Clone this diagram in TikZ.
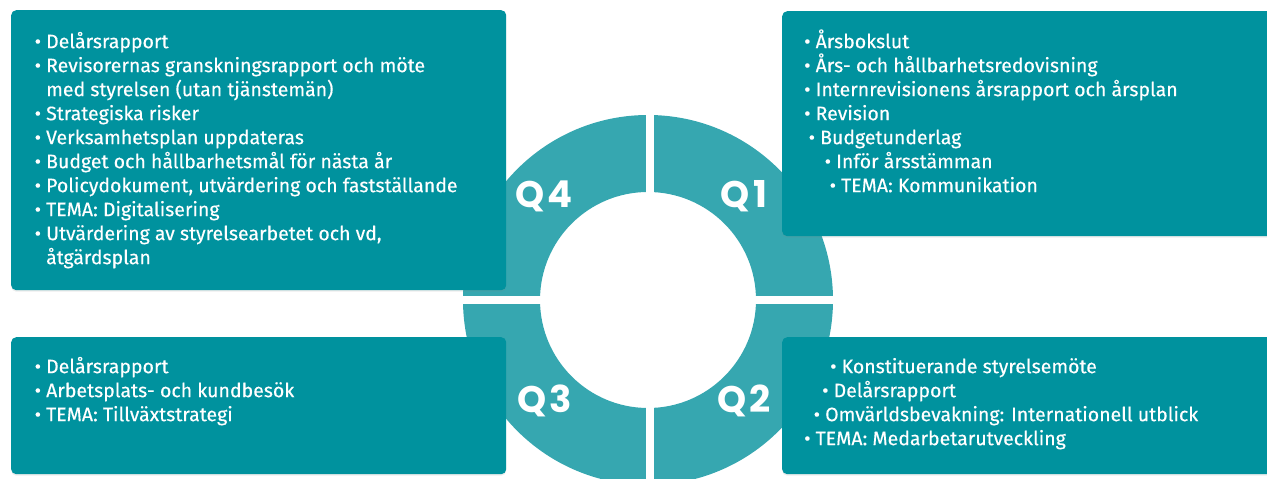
\documentclass[tikz,border=0pt]{standalone}
\usepackage{fontspec}
\setmainfont{Fira Sans}[FakeBold=0.3]
\newfontfamily\qfont{Poppins}
\usetikzlibrary{shadows}
\definecolor{boxteal}{RGB}{0,146,158}
\definecolor{ringteal}{RGB}{54,167,176}
\newcommand{\bl}{\rule{0pt}{20pt}}
\begin{document}
\begin{tikzpicture}[x=1pt,y=1pt]
        \tikzstyle{box}=[rectangle,rounded corners=5pt,fill=boxteal,anchor=north west,inner sep=0pt,
          drop shadow={opacity=0.15,shadow xshift=0pt,shadow yshift=-1.5pt}]
        \tikzstyle{items}=[anchor=north west,align=left,inner sep=0pt,text=white,font=\fontsize{19.5}{24}\selectfont]
        \tikzstyle{quarter}=[text=white,inner sep=0pt,font=\qfont\bfseries\fontsize{37}{37}\selectfont]
        \useasboundingbox (0,0) rectangle (1267,479);

        % ring
        \coordinate (c) at (648,179);
        \fill[ringteal,even odd rule] (c) circle (185) (c) circle (108);
        \draw[white,line width=8pt] (649.5,380) -- (649.5,-20);
        \draw[white,line width=8pt] (440,179) -- (860,179);

        \node [quarter] (l4) at (544,283) {Q\kern3pt4};
        \node [quarter] (l1) at (744,283) {Q\kern3pt1};
        \node [quarter] (l3) at (544.5,78) {Q\kern3pt3};
        \node [quarter] (l2) at (744,78) {Q\kern3pt2};

        % boxes
        \node [box,minimum width=495pt,minimum height=280pt] (q4) at (11,469) {};
        \node [box,minimum width=495pt,minimum height=225pt] (q1) at (782,468) {};
        \node [box,minimum width=495pt,minimum height=137pt] (q3) at (11,142) {};
        \node [box,minimum width=495pt,minimum height=137pt] (q2) at (782,142) {};

        \node [items] (q4text) at (34.5,451) {\bl• Delårsrapport\\
          • Revisorernas granskningsrapport och möte\\
          \hphantom{• }med styrelsen (utan tjänstemän)\\
          • Strategiska risker\\
          • Verksamhetsplan uppdateras\\
          • Budget och hållbarhetsmål för nästa år\\
          • Policydokument, utvärdering och fastställande\\
          • TEMA: Digitalisering\\
          • Utvärdering av styrelsearbetet och vd,\\
          \hphantom{• }åtgärdsplan};
        \node [items] (q1text) at (804,451) {\bl• Årsbokslut\\
          • Års- och hållbarhetsredovisning\\
          • Internrevisionens årsrapport och årsplan\\
          • Revision\\
          \hspace*{4.5pt}• Budgetunderlag\\
          \hspace*{20.5pt}• Inför årsstämman\\
          \hspace*{25.5pt}• TEMA: Kommunikation};
        \node [items] (q3text) at (34.5,126) {\bl• Delårsrapport\\
          • Arbetsplats- och kundbesök\\
          • TEMA: Tillväxtstrategi};
        \node [items] (q2text) at (804,126) {\bl\hspace*{26pt}• Konstituerande styrelsemöte\\
          \hspace*{18pt}• Delårsrapport\\
          \hspace*{9.5pt}• Omvärldsbevakning: Internationell utblick\\
          • TEMA: Medarbetarutveckling};
\end{tikzpicture}
\end{document}
